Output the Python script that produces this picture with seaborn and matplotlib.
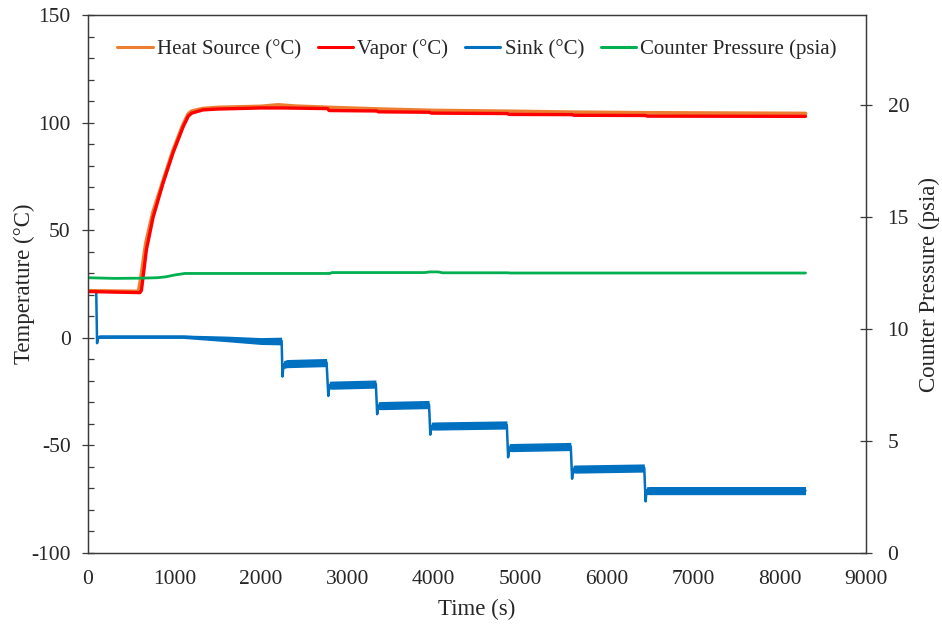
import numpy as np
import pandas as pd
import matplotlib
matplotlib.use("Agg")
import matplotlib.pyplot as plt
import seaborn as sns
from matplotlib.ticker import MultipleLocator

# ---------------- data ----------------
heat_t = [0, 585, 610, 670, 750, 870, 984, 1100, 1160, 1200, 1330, 1500, 2000, 2200,
          2400, 2800, 3400, 4000, 4900, 5600, 6500, 8300]
heat_v = [21.8, 21.5, 27, 44, 58, 73, 87, 99, 104, 105.3, 106.5, 107, 107.5, 108.2,
          107.6, 107, 106.2, 105.6, 105.2, 104.8, 104.5, 104.2]

vapor_t = [0, 600, 618, 676, 753, 869, 984, 1100, 1160, 1200, 1330, 1500, 2000, 2250,
           2770, 2790, 3340, 3360, 3950, 3970, 4850, 4870, 5600, 5620, 6450, 6470, 8300]
vapor_v = [21.5, 21.0, 22, 41, 56, 72, 86, 98, 103, 104.4, 105.9, 106.3, 106.8, 106.8,
           106.5, 105.6, 105.4, 105.0, 104.8, 104.4, 104.2, 103.8, 103.7, 103.4, 103.3, 103.0, 102.9]

sink_t = [0, 95, 105, 115, 140, 1100, 1600, 2000, 2240,
          2250, 2262, 2300, 2760,
          2780, 2792, 2830, 3330,
          3345, 3357, 3400, 3945,
          3960, 3972, 4010, 4845,
          4860, 4872, 4910, 5585,
          5600, 5612, 5650, 6435,
          6450, 6462, 6500, 8300]
sink_v = [22, 22, -2.5, 0.3, 0.5, 0.5, -0.5, -1.5, -1.5,
          -18, -12.5, -12, -11.5,
          -27, -22, -22, -21.5,
          -35.5, -31.5, -31.5, -31,
          -45, -41, -41, -40.5,
          -55.5, -51, -51, -50.5,
          -65.5, -61, -61, -60.5,
          -76, -71, -71, -71]
sink_hw = [0, 0, 0, 0.7, 0.8, 0.8, 1.3, 1.6, 1.8,
           0, 1.8, 1.9, 1.9,
           0, 1.8, 1.9, 1.9,
           0, 1.8, 1.9, 1.9,
           0, 1.8, 1.9, 1.9,
           0, 1.8, 1.9, 1.9,
           0, 1.8, 1.9, 1.9,
           0, 1.8, 1.9, 1.9]

press_t = [0, 300, 600, 800, 900, 1000, 1120, 2800, 2820, 3900, 3950, 4050, 4100,
           4860, 4880, 6440, 6460, 8300]
press_v = [12.28, 12.25, 12.26, 12.28, 12.32, 12.40, 12.47, 12.47, 12.51, 12.51, 12.54,
           12.54, 12.50, 12.50, 12.49, 12.49, 12.49, 12.49]

x_ticks = [0, 1000, 2000, 3000, 4000, 5000, 6000, 7000, 8000, 9000]
y_ticks = [-100, -50, 0, 50, 100, 150]
y2_ticks = [0, 5, 10, 15, 20]

c_heat, c_vapor, c_sink, c_press = "#ED7D31", "#FF0000", "#0070C0", "#00B050"

# ---------------- style ----------------
sns.set_style("white")
plt.rcParams["font.family"] = ["Liberation Serif", "DejaVu Serif"]
plt.rcParams["axes.unicode_minus"] = False
FS_TICK = 15.5
FS_LEG = 15
FS_LAB = 16.5

fig = plt.figure(figsize=(9.42, 6.26), dpi=100)
ax = fig.add_axes([88 / 942, 1 - 553 / 626, (866 - 88) / 942, (553 - 15) / 626])
ax2 = ax.twinx()

df_heat = pd.DataFrame({"t": heat_t, "v": heat_v})
df_vap = pd.DataFrame({"t": vapor_t, "v": vapor_v})
df_sink = pd.DataFrame({"t": sink_t, "v": sink_v, "hw": sink_hw})
df_press = pd.DataFrame({"t": press_t, "v": press_v})

ax.fill_between(df_sink["t"], df_sink["v"] - df_sink["hw"], df_sink["v"] + df_sink["hw"],
                color=c_sink, lw=0, zorder=2)
sns.lineplot(data=df_sink, x="t", y="v", ax=ax, color=c_sink, lw=1.8, label="Sink (°C)",
             estimator=None, sort=False, zorder=3)
sns.lineplot(data=df_heat, x="t", y="v", ax=ax, color=c_heat, lw=2.8, label="Heat Source (°C)",
             estimator=None, sort=False, zorder=4)
sns.lineplot(data=df_vap, x="t", y="v", ax=ax, color=c_vapor, lw=2.4, label="Vapor (°C)",
             estimator=None, sort=False, zorder=5)
sns.lineplot(data=df_press, x="t", y="v", ax=ax2, color=c_press, lw=2.0,
             label="Counter Pressure (psia)", estimator=None, sort=False)

ax.set_xlim(0, 9000)
ax.set_ylim(-100, 150)
ax2.set_ylim(0, 24)
ax.set_xticks(x_ticks)
ax.set_yticks(y_ticks)
ax2.set_yticks(y2_ticks)
ax.yaxis.set_minor_locator(MultipleLocator(10))

ax.set_xlabel("Time (s)", fontsize=FS_LAB, labelpad=7)
ax.set_ylabel("Temperature (°C)", fontsize=FS_LAB, labelpad=-3)
ax2.set_ylabel("Counter Pressure (psia)", fontsize=FS_LAB, labelpad=7)

spine_c = "#3a3a3a"
for a in (ax, ax2):
    for s in a.spines.values():
        s.set_color(spine_c)
        s.set_linewidth(0.9)
ax.tick_params(axis="x", which="major", direction="inout", length=9, width=0.9,
               color=spine_c, labelsize=FS_TICK, pad=8)
ax.tick_params(axis="y", which="major", direction="inout", length=9, width=0.9,
               color=spine_c, labelsize=FS_TICK, pad=8)
ax.tick_params(axis="y", which="minor", direction="in", length=4, width=0.9, color=spine_c,
               left=True)
ax2.tick_params(axis="y", which="major", direction="inout", length=9, width=0.9,
                color=spine_c, labelsize=FS_TICK, pad=11, right=True)

# combined legend
if ax.get_legend():
    ax.get_legend().remove()
if ax2.get_legend():
    ax2.get_legend().remove()
h1, l1 = ax.get_legend_handles_labels()
h2, l2 = ax2.get_legend_handles_labels()
order = ["Heat Source (°C)", "Vapor (°C)", "Sink (°C)", "Counter Pressure (psia)"]
hmap = dict(zip(l1 + l2, h1 + h2))
handles = [hmap[k] for k in order]
leg = ax.legend(handles, order, loc="upper center", bbox_to_anchor=(0.5, 0.99), ncol=4,
                frameon=False, fontsize=FS_LEG, handlelength=1.7, handletextpad=0.2,
                columnspacing=0.8)
for h in leg.legend_handles:
    h.set_linewidth(2.2)

fig.savefig("out.png", dpi=100)
